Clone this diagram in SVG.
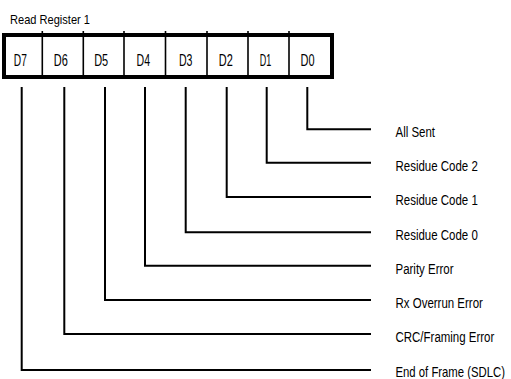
<svg xmlns="http://www.w3.org/2000/svg" width="511" height="379" viewBox="0 0 511 379">
<style>
text{font-family:"Liberation Sans",Arial,sans-serif;fill:#000}
.lbl{font-size:14px}
.bit{font-size:16px;text-anchor:middle}
.ttl{font-size:13.5px}
.box{fill:#fff;stroke:#000;stroke-width:4}
.div{stroke:#000;stroke-width:1.6}
.conn{fill:none;stroke:#000;stroke-width:2}
</style>
<rect width="511" height="379" fill="#fff"/>
<text class="ttl" x="10" y="23.5" textLength="80" lengthAdjust="spacingAndGlyphs">Read Register 1</text>
<g id="register">
<rect class="box" x="4" y="35" width="328" height="42"/>
<line class="div" x1="42.3" y1="31" x2="42.3" y2="77"/>
<line class="div" x1="83.3" y1="31" x2="83.3" y2="77"/>
<line class="div" x1="124" y1="31" x2="124" y2="77"/>
<line class="div" x1="165.5" y1="31" x2="165.5" y2="77"/>
<line class="div" x1="207" y1="31" x2="207" y2="77"/>
<line class="div" x1="248" y1="31" x2="248" y2="77"/>
<line class="div" x1="289" y1="31" x2="289" y2="77"/>
<text class="bit" x="20.3" y="66" textLength="13" lengthAdjust="spacingAndGlyphs">D7</text>
<text class="bit" x="60.8" y="66" textLength="14" lengthAdjust="spacingAndGlyphs">D6</text>
<text class="bit" x="101.2" y="66" textLength="14" lengthAdjust="spacingAndGlyphs">D5</text>
<text class="bit" x="143.3" y="66" textLength="13.5" lengthAdjust="spacingAndGlyphs">D4</text>
<text class="bit" x="185.7" y="66" textLength="13.5" lengthAdjust="spacingAndGlyphs">D3</text>
<text class="bit" x="225.8" y="66" textLength="14" lengthAdjust="spacingAndGlyphs">D2</text>
<text class="bit" x="265.5" y="66" textLength="11.5" lengthAdjust="spacingAndGlyphs">D1</text>
<text class="bit" x="307.5" y="66" textLength="14" lengthAdjust="spacingAndGlyphs">D0</text>
</g>
<g id="connectors">
<polyline class="conn" points="307.3,87 307.3,129.3 371,129.3"/>
<polyline class="conn" points="266.7,87 266.7,162.7 371,162.7"/>
<polyline class="conn" points="226.7,87 226.7,197 371,197"/>
<polyline class="conn" points="185.7,87 185.7,232.3 371,232.3"/>
<polyline class="conn" points="145,87 145,265.7 371,265.7"/>
<polyline class="conn" points="105,87 105,300 371,300"/>
<polyline class="conn" points="64.3,87 64.3,334 371,334"/>
<polyline class="conn" points="21.7,87 21.7,370 371,370"/>
</g>
<g id="labels">
<text class="lbl" transform="matrix(0.82 0 0 1 395.5 137)">All Sent</text>
<text class="lbl" transform="matrix(0.82 0 0 1 395.5 170.5)">Residue Code 2</text>
<text class="lbl" transform="matrix(0.82 0 0 1 395.5 205)">Residue Code 1</text>
<text class="lbl" transform="matrix(0.82 0 0 1 395.5 240)">Residue Code 0</text>
<text class="lbl" transform="matrix(0.82 0 0 1 395.5 273.5)">Parity Error</text>
<text class="lbl" transform="matrix(0.82 0 0 1 395.5 308)">Rx Overrun Error</text>
<text class="lbl" transform="matrix(0.82 0 0 1 395.5 342)">CRC/Framing Error</text>
<text class="lbl" transform="matrix(0.81 0 0 1 395.5 377)">End of Frame (SDLC)</text>
</g>
</svg>
